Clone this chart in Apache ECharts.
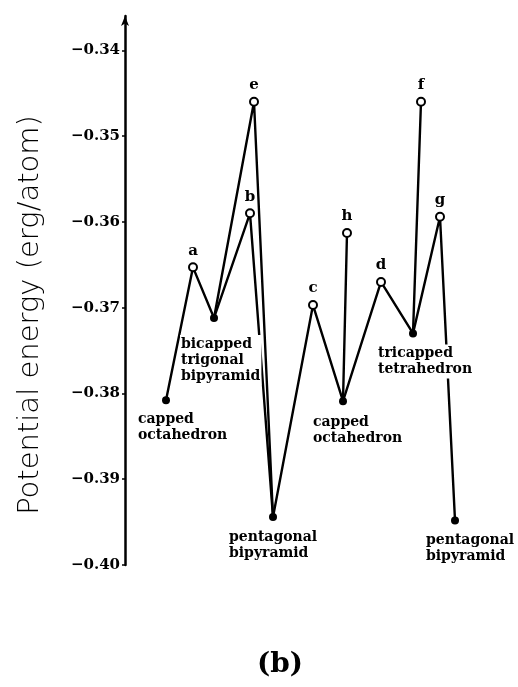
<!DOCTYPE html>
<html>
<head>
<meta charset="utf-8">
<script src="https://cdn.jsdelivr.net/npm/echarts@6/dist/echarts.min.js"></script>
<style>
  html, body { margin: 0; padding: 0; background: #fff; }
  #chart { width: 518px; height: 687px; }
</style>
</head>
<body>
<div id="chart"></div>
<script>
// 极小值构型 (实心点)
var minimaNames = ['capped\noctahedron', 'bicapped\ntrigonal\nbipyramid', 'pentagonal\nbipyramid',
                   'capped\noctahedron', 'tricapped\ntetrahedron', 'pentagonal\nbipyramid'];
var minimaCoord = [4.1, 8.9, 14.8, 21.8, 28.8, 33.0];
var minimaEnergy = [-0.3808, -0.3712, -0.3944, -0.3809, -0.3730, -0.3948];

// 鞍点 (空心点)
var saddleNames = ['a', 'b', 'c', 'd', 'e', 'f', 'g', 'h'];
var saddleCoord = [6.8, 12.5, 18.8, 25.6, 12.9, 29.6, 31.5, 22.2];
var saddleEnergy = [-0.3653, -0.3590, -0.3697, -0.3670, -0.3460, -0.3460, -0.3594, -0.3613];

// 路径: [起点极小值, 鞍点, 终点极小值]
var pathways = [[0, 'a', 1], [1, 'e', 2], [1, 'b', 2], [2, 'c', 3],
                [3, 'h', 3], [3, 'd', 4], [4, 'f', 4], [4, 'g', 5]];

// 刻度
var yTicks = [-0.40, -0.39, -0.38, -0.37, -0.36, -0.35, -0.34];

// 标签相对位置 (样式)
var minimaLabelOffset = [[-29, 27], [-34, 42], [-45, 28], [-31, 29], [-36, 28], [-30, 28]];

(function() {
    var myChart = echarts.init(document.getElementById('chart'));
    var serif = 'DejaVu Serif';

    var lineSeries = pathways.map(function(p) {
        var s = saddleNames.indexOf(p[1]);
        return {
            type: 'line',
            symbol: 'none',
            silent: true,
            lineStyle: { color: '#000', width: 2.4 },
            data: [
                [minimaCoord[p[0]], minimaEnergy[p[0]]],
                [saddleCoord[s], saddleEnergy[s]],
                [minimaCoord[p[2]], minimaEnergy[p[2]]]
            ],
            z: 2
        };
    });

    var option = {
        animation: false,
        grid: { left: 125, right: 18, top: 16, bottom: 122 },
        xAxis: { type: 'value', min: 0, max: 37.5, show: false },
        yAxis: {
            type: 'value',
            min: -0.40,
            max: -0.336,
            axisLine: {
                show: true,
                symbol: ['none', 'arrow'],
                symbolSize: [6, 10],
                lineStyle: { color: '#000', width: 2.5 }
            },
            axisTick: {
                show: true,
                length: 3,
                customValues: yTicks,
                lineStyle: { color: '#000', width: 1.5 }
            },
            axisLabel: {
                customValues: yTicks,
                margin: 5,
                color: '#000',
                fontFamily: serif,
                fontWeight: 'bold',
                fontSize: 15,
                formatter: function(v) {
                    return (v < 0 ? '\u2212' : '') + Math.abs(v).toFixed(2);
                }
            },
            splitLine: { show: false }
        },
        graphic: [
            {
                type: 'text',
                x: 30, y: 315,
                rotation: Math.PI / 2,
                style: {
                    text: 'Potential energy (erg/atom)',
                    font: '200 29px "DejaVu Sans"',
                    fill: '#000',
                    align: 'center',
                    verticalAlign: 'middle'
                }
            },
            {
                type: 'text',
                x: 280, y: 665,
                style: {
                    text: '(b)',
                    font: 'bold 28px "DejaVu Serif"',
                    fill: '#000',
                    align: 'center',
                    verticalAlign: 'middle'
                }
            }
        ],
        series: lineSeries.concat([
            {
                type: 'scatter',
                symbol: 'circle',
                symbolSize: 8,
                itemStyle: { color: '#000', opacity: 1 },
                z: 5,
                data: minimaNames.map(function(n, i) {
                    return {
                        value: [minimaCoord[i], minimaEnergy[i]],
                        label: {
                            show: true,
                            formatter: n,
                            position: 'inside',
                            align: 'left',
                            verticalAlign: 'middle',
                            offset: minimaLabelOffset[i],
                            color: '#000',
                            fontFamily: serif,
                            fontWeight: 'bold',
                            fontSize: 14,
                            lineHeight: 16,
                            backgroundColor: '#fff',
                            padding: [1, 1]
                        }
                    };
                })
            },
            {
                type: 'scatter',
                symbol: 'circle',
                symbolSize: 8,
                itemStyle: { color: '#fff', borderColor: '#000', borderWidth: 2, opacity: 1 },
                z: 5,
                label: {
                    show: true,
                    position: 'top',
                    distance: 4,
                    formatter: function(p) { return saddleNames[p.dataIndex]; },
                    color: '#000',
                    fontFamily: serif,
                    fontWeight: 'bold',
                    fontSize: 15
                },
                data: saddleNames.map(function(n, i) {
                    return [saddleCoord[i], saddleEnergy[i]];
                })
            }
        ])
    };

    myChart.setOption(option);

    window.addEventListener('resize', function() {
        myChart.resize();
    });
})();
</script>
</body>
</html>
